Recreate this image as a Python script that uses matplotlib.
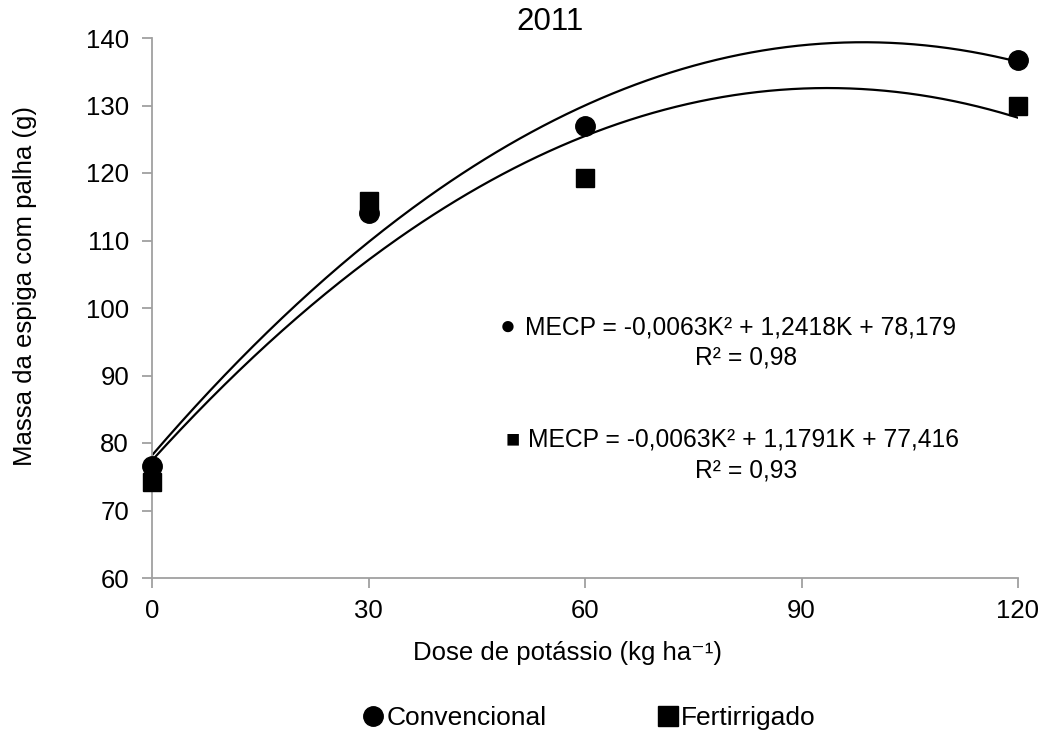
import numpy as np
import matplotlib
matplotlib.use("Agg")
import matplotlib.pyplot as plt
from matplotlib.lines import Line2D

plt.rcParams['font.family'] = ['Liberation Sans', 'DejaVu Sans']

doses = [0, 30, 60, 120]
convencional = [76.6, 114.1, 126.9, 136.7]
fertirrigado = [74.2, 115.9, 119.3, 129.9]
coef_conv = [-0.0063, 1.2418, 78.179]
coef_fert = [-0.0063, 1.1791, 77.416]
xticks = [0, 30, 60, 90, 120]
yticks = [60, 70, 80, 90, 100, 110, 120, 130, 140]

FS = 18.5
FS_EQ = 17.7

fig = plt.figure(figsize=(10.43, 7.33), dpi=100)
ax = fig.add_axes([152/1043, 1-578/733, (1018-152)/1043, (578-38)/733])

k = np.linspace(0, 120, 300)
ax.plot(k, np.polyval(coef_conv, k), color='black', lw=1.6, zorder=2)
ax.plot(k, np.polyval(coef_fert, k), color='black', lw=1.6, zorder=2)
ax.plot(doses, fertirrigado, 's', color='black', ms=13.5, zorder=3, clip_on=False)
ax.plot(doses, convencional, 'o', color='black', ms=14, zorder=3, clip_on=False)

ax.set_xlim(0, 120)
ax.set_ylim(60, 140)
ax.set_xticks(xticks)
ax.set_yticks(yticks)
for s in ['top', 'right']:
    ax.spines[s].set_visible(False)
for s in ['left', 'bottom']:
    ax.spines[s].set_color('#a0a0a0')
    ax.spines[s].set_linewidth(1.3)
ax.tick_params(axis='both', colors='#a0a0a0', labelcolor='black', labelsize=FS,
               length=7, width=1.3, direction='out')
ax.tick_params(axis='x', pad=8)
ax.tick_params(axis='y', pad=9.5)

ax.set_xlabel('Dose de potássio (kg ha\u207b\u00b9)', fontsize=FS)
ax.set_ylabel('Massa da espiga com palha (g)', fontsize=FS)
ax.xaxis.set_label_coords(0.48, -0.117)
ax.yaxis.set_label_coords(-0.133, 0.54)
fig.text(550/1043, 1-22/733, '2011', ha='center', va='center', fontsize=22.5)

# equation annotations
fig.text(508/1043, 1-327/733, '\u25cf', ha='center', va='center', fontsize=19)
fig.text(525/1043, 1-327/733, 'MECP = -0,0063K\u00b2 + 1,2418K + 78,179',
         ha='left', va='center', fontsize=FS_EQ)
fig.text(746/1043, 1-357/733, 'R² = 0,98', ha='center', va='center', fontsize=FS_EQ)
fig.text(513/1043, 1-440/733, '\u25a0', ha='center', va='center', fontsize=17)
fig.text(528/1043, 1-440/733, 'MECP = -0,0063K\u00b2 + 1,1791K + 77,416',
         ha='left', va='center', fontsize=FS_EQ)
fig.text(746/1043, 1-471/733, 'R² = 0,93', ha='center', va='center', fontsize=FS_EQ)

handles = [Line2D([], [], marker='o', color='black', ls='none', ms=14),
           Line2D([], [], marker='s', color='black', ls='none', ms=14)]
fig.legend(handles, ['Convencional', 'Fertirrigado'], loc='center',
           bbox_to_anchor=(588/1043, 1-718/733), ncol=2, frameon=False,
           fontsize=19, handletextpad=0.0, columnspacing=4.1, handlelength=1.0)

fig.savefig('out.png', dpi=100)
